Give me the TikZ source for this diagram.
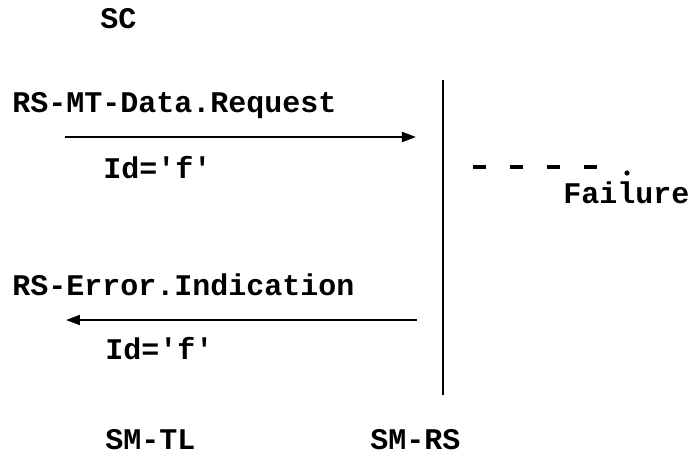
\documentclass[tikz,border=0pt]{standalone}
\usepackage{fontspec}
\setmonofont{Liberation Mono}
\usetikzlibrary{arrows.meta}
\tikzset{
  lbl/.style={anchor=west, inner sep=0pt, font=\fontsize{15}{18}\selectfont\ttfamily\bfseries},
  msg/.style={-{Triangle[length=7pt, width=5pt]}, line width=1pt},
}
\begin{document}
\begin{tikzpicture}[
            x=0.5pt, y=-0.5pt,
        ]
            \useasboundingbox (0, 0) rectangle (693, 457);
            \node[lbl] (sc) at (100, 19) {SC};
            % the entity line
            \coordinate (rs top) at (443, 80);
            \coordinate (rs bottom) at (443, 395);
            \draw[line width=1.2pt] (rs top) -- (rs bottom);
            % request
            \node[lbl] (request) at (12, 106) {RS-MT-Data.Request};
            \coordinate (req from) at (65, 137);
            \coordinate (req to) at (416, 137);
            \draw[msg] (req from) -- (req to);
            \node[lbl] (req id) at (103, 168) {Id='f'};
            % failure
            \coordinate (fail from) at (473, 167);
            \coordinate (fail to) at (598, 167);
            \draw[line width=1.8pt, dash pattern=on 6.5pt off 12pt] (fail from) -- (fail to);
            \fill (627, 173) circle (2.6);
            \node[lbl] (failure) at (563, 193) {Failure};
            % indication
            \node[lbl] (indication) at (12, 285) {RS-Error.Indication};
            \coordinate (ind from) at (417, 320);
            \coordinate (ind to) at (66, 320);
            \draw[msg] (ind from) -- (ind to);
            \node[lbl] (ind id) at (105, 349) {Id='f'};
            % bottom labels
            \node[lbl] (smtl) at (105, 440) {SM-TL};
            \node[lbl] (smrs) at (370, 440) {SM-RS};
        \end{tikzpicture}
\end{document}
